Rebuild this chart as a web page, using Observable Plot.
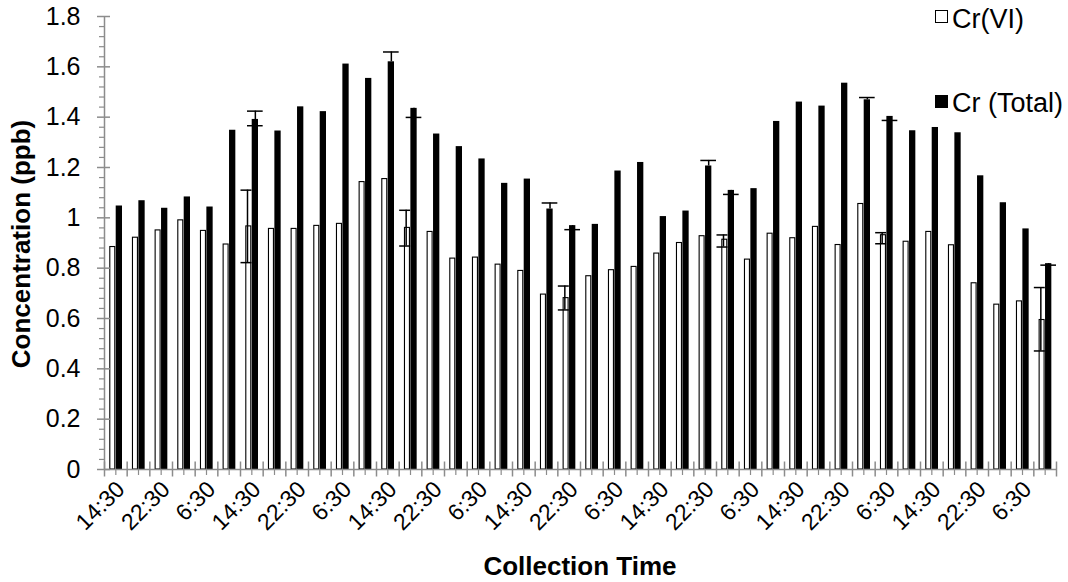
<!DOCTYPE html>
<html><head><meta charset="utf-8">
<script src="https://cdn.jsdelivr.net/npm/d3@7"></script>
<script src="https://cdn.jsdelivr.net/npm/@observablehq/plot@0.6"></script>
<style>
html,body{margin:0;padding:0;background:#fff;}
#wrap{position:relative;width:1068px;height:582px;}
</style></head><body><div id="wrap"></div>
<script>
// Collection times (4-hour intervals, 7 days)
const times = [
  "14:30","18:30","22:30","2:30","6:30","10:30",
  "14:30","18:30","22:30","2:30","6:30","10:30",
  "14:30","18:30","22:30","2:30","6:30","10:30",
  "14:30","18:30","22:30","2:30","6:30","10:30",
  "14:30","18:30","22:30","2:30","6:30","10:30",
  "14:30","18:30","22:30","2:30","6:30","10:30",
  "14:30","18:30","22:30","2:30","6:30","10:30"
];
const seriesNames = ["Cr(VI)", "Cr (Total)"];
const crVI = [
  0.884,0.921,0.950,0.990,0.948,0.894,0.966,0.956,0.956,0.968,0.976,1.142,1.154,0.960,
  0.944,0.838,0.842,0.814,0.789,0.695,0.681,0.768,0.792,0.805,0.858,0.900,0.927,0.913,
  0.834,0.937,0.919,0.964,0.892,1.055,0.931,0.905,0.944,0.891,0.740,0.655,0.668,0.594
];
const crTotal = [
  1.047,1.068,1.038,1.083,1.043,1.348,1.391,1.345,1.441,1.422,1.611,1.554,1.620,1.435,
  1.333,1.283,1.234,1.137,1.154,1.035,0.969,0.974,1.186,1.220,1.005,1.027,1.206,1.109,
  1.116,1.383,1.460,1.444,1.535,1.469,1.403,1.346,1.359,1.338,1.167,1.060,0.956,0.818
];
const N = null;
const crVIErrLow = [
  N,N,N,N,N,N,0.822,N,N,N,N,N,N,0.888,
  N,N,N,N,N,N,0.634,N,N,N,N,N,N,0.884,
  N,N,N,N,N,N,0.897,N,N,N,N,N,N,0.471
];
const crVIErrHigh = [
  N,N,N,N,N,N,1.110,N,N,N,N,N,N,1.030,
  N,N,N,N,N,N,0.729,N,N,N,N,N,N,0.932,
  N,N,N,N,N,N,0.941,N,N,N,N,N,N,0.723
];
const crTotalErrLow = [
  N,N,N,N,N,N,1.366,N,N,N,N,N,N,1.399,
  N,N,N,N,N,N,0.953,N,N,N,N,N,N,1.093,
  N,N,N,N,N,N,1.387,N,N,N,N,N,N,0.812
];
const crTotalErrHigh = [
  N,N,N,N,N,N,1.424,N,N,N,N,N,1.659,N,
  N,N,N,N,N,1.059,N,N,N,N,N,N,1.228,N,
  N,N,N,N,N,1.478,N,N,N,N,N,N,N,N
];
const yTicks = [0,0.2,0.4,0.6,0.8,1,1.2,1.4,1.6,1.8];

const rows = times.map((t, i) => ({
  i, t, vi: crVI[i], tot: crTotal[i],
  viLo: crVIErrLow[i], viHi: crVIErrHigh[i],
  totLo: crTotalErrLow[i], totHi: crTotalErrHigh[i]
}));
const viErr = rows.filter(d => d.viLo != null);
const totErr = rows.filter(d => d.totLo != null || d.totHi != null);
const totLoCaps = rows.filter(d => d.totLo != null);
const totHiCaps = rows.filter(d => d.totHi != null);

const gray = "#8c8c8c";
const font = '"Liberation Sans", Arial, Helvetica, sans-serif';
const yMinor = d3.range(0, 46).filter(k => k % 5 !== 0).map(k => k / 25);
const boundaries = d3.range(0, times.length + 1);
const centers = d3.range(0, times.length).map(k => k + 0.5);
const labelPos = d3.range(0, times.length, 2).map(k => k + 0.5);

const chart = Plot.plot({
  width: 1068, height: 582,
  marginLeft: 104, marginRight: 12, marginTop: 16, marginBottom: 113,
  style: {fontFamily: font, background: "white", overflow: "visible"},
  x: {type: "linear", domain: [0, times.length], axis: null},
  y: {domain: [0, 1.8], axis: null},
  marks: [
    Plot.rect(rows, {x1: "i", x2: d => d.i + 1, y1: 0, y2: "vi", insetLeft: 5.8, insetRight: 11.9,
      fill: "white", stroke: "black", strokeWidth: 1.1}),
    Plot.rect(rows, {x1: "i", x2: d => d.i + 1, y1: 0, y2: "tot", insetLeft: 11.7, insetRight: 4.67,
      fill: "black"}),
    // Cr(VI) error bars
    Plot.ruleX(viErr, {x: "i", dx: 7, y1: "viLo", y2: "viHi", stroke: "black", strokeWidth: 1.5}),
    Plot.ruleY(viErr, {y: "viLo", x1: "i", x2: d => d.i + 1, insetLeft: 0.5, insetRight: 11.2, stroke: "black", strokeWidth: 1.5}),
    Plot.ruleY(viErr, {y: "viHi", x1: "i", x2: d => d.i + 1, insetLeft: 0.5, insetRight: 11.2, stroke: "black", strokeWidth: 1.5}),
    // Cr (Total) error bars
    Plot.ruleX(totErr, {x: "i", dx: 14.85, y1: d => d.totLo ?? d.tot, y2: d => d.totHi ?? d.tot, stroke: "black", strokeWidth: 1.5}),
    Plot.ruleY(totLoCaps, {y: "totLo", x1: "i", x2: d => d.i + 1, insetLeft: 7, insetRight: 0, stroke: "black", strokeWidth: 1.5}),
    Plot.ruleY(totHiCaps, {y: "totHi", x1: "i", x2: d => d.i + 1, insetLeft: 7, insetRight: 0, stroke: "black", strokeWidth: 1.5}),
    // axis lines
    Plot.ruleX([0], {stroke: gray, strokeWidth: 1.5}),
    Plot.ruleY([0], {stroke: gray, strokeWidth: 1.5}),
    // y axis
    Plot.axisY({ticks: yTicks, tickSize: 13, dx: 6, fill: "none", stroke: gray, strokeWidth: 1.5, label: null}),
    Plot.axisY({ticks: yMinor, tickSize: 5, fill: "none", stroke: gray, strokeWidth: 1.2, label: null}),
    Plot.axisY({ticks: yTicks, tickSize: 0, tickPadding: 24, tickFormat: d3.format("~g"), fill: "black", fontSize: 25, label: null}),
    // x axis
    Plot.axisX({ticks: boundaries, tickSize: 15, dy: -7.5, fill: "none", stroke: gray, strokeWidth: 1.5, label: null}),
    Plot.axisX({ticks: centers, tickSize: 6, fill: "none", stroke: gray, strokeWidth: 1.2, label: null}),
    Plot.axisX({ticks: labelPos, tickSize: 0, tickPadding: 16, tickRotate: -45, dx: 5,
      tickFormat: d => times[Math.floor(d)], fill: "black", fontSize: 23, label: null})
  ]
});

const svg = d3.select(chart);
svg.append("text")
  .attr("transform", "translate(30,244) rotate(-90)")
  .attr("text-anchor", "middle").attr("font-weight", "bold").attr("font-size", 26)
  .attr("font-family", font).attr("fill", "black")
  .text("Concentration (ppb)");
svg.append("text")
  .attr("x", 580).attr("y", 575)
  .attr("text-anchor", "middle").attr("font-weight", "bold").attr("font-size", 26)
  .attr("font-family", font).attr("fill", "black")
  .text("Collection Time");
// legend
const leg = svg.append("g").attr("font-family", font).attr("font-size", 27)
  .attr("fill", "black").attr("text-anchor", "start");
leg.append("rect").attr("x", 935.5).attr("y", 10.5).attr("width", 12).attr("height", 12)
  .attr("fill", "white").attr("stroke", "black").attr("stroke-width", 1);
leg.append("text").attr("x", 952).attr("y", 28).attr("text-anchor", "start").text(seriesNames[0]);
leg.append("rect").attr("x", 935).attr("y", 95).attr("width", 13).attr("height", 13).attr("fill", "black");
leg.append("text").attr("x", 952).attr("y", 112).attr("text-anchor", "start").text(seriesNames[1]);

document.getElementById("wrap").appendChild(chart);
</script>
</body></html>
